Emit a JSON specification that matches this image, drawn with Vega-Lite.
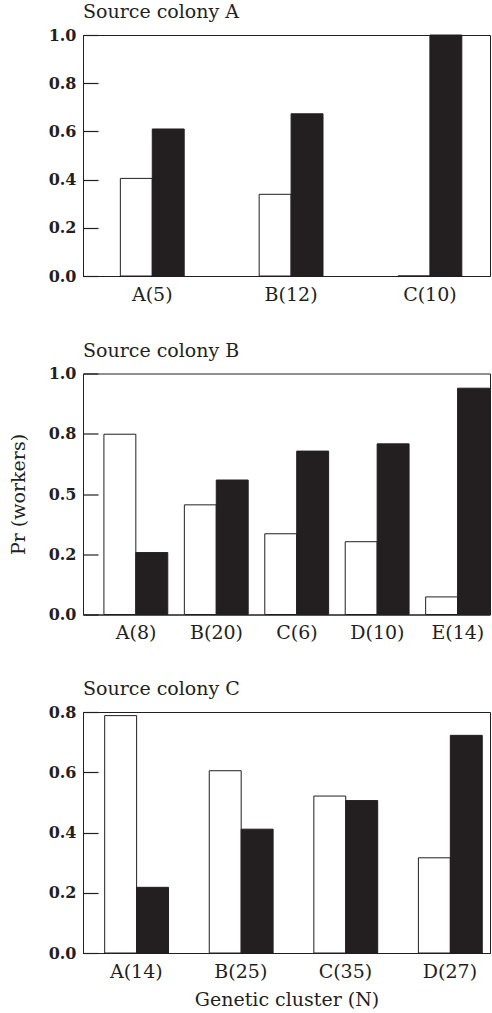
{
  "$schema": "https://vega.github.io/schema/vega-lite/v6.json",
  "padding": {"left": 8, "top": 2, "right": 1, "bottom": 2},
  "spacing": 35.5,
  "config": {
    "font": "DejaVu Serif",
    "view": {"stroke": "#231f20", "strokeWidth": 1},
    "axis": {"domainColor": "#231f20", "tickColor": "#231f20", "labelColor": "#231f20", "titleColor": "#231f20", "grid": false, "labelFont": "DejaVu Serif", "titleFont": "DejaVu Serif"},
    "title": {"font": "DejaVu Serif", "fontSize": 19, "fontWeight": "normal", "anchor": "start", "frame": "group", "color": "#231f20"}
  },
  "datasets": {
    "colA": [
      {"cluster": "A(5)", "bar": "open", "pr": 0.405},
      {"cluster": "A(5)", "bar": "filled", "pr": 0.61},
      {"cluster": "B(12)", "bar": "open", "pr": 0.339},
      {"cluster": "B(12)", "bar": "filled", "pr": 0.673},
      {"cluster": "C(10)", "bar": "open", "pr": 0.0},
      {"cluster": "C(10)", "bar": "filled", "pr": 1.0}
    ],
    "colB": [
      {"cluster": "A(8)", "bar": "open", "pr": 0.748},
      {"cluster": "A(8)", "bar": "filled", "pr": 0.257},
      {"cluster": "B(20)", "bar": "open", "pr": 0.455},
      {"cluster": "B(20)", "bar": "filled", "pr": 0.558},
      {"cluster": "C(6)", "bar": "open", "pr": 0.335},
      {"cluster": "C(6)", "bar": "filled", "pr": 0.678},
      {"cluster": "D(10)", "bar": "open", "pr": 0.302},
      {"cluster": "D(10)", "bar": "filled", "pr": 0.708},
      {"cluster": "E(14)", "bar": "open", "pr": 0.073},
      {"cluster": "E(14)", "bar": "filled", "pr": 0.939}
    ],
    "colC": [
      {"cluster": "A(14)", "bar": "open", "pr": 0.788},
      {"cluster": "A(14)", "bar": "filled", "pr": 0.218},
      {"cluster": "B(25)", "bar": "open", "pr": 0.605},
      {"cluster": "B(25)", "bar": "filled", "pr": 0.411},
      {"cluster": "C(35)", "bar": "open", "pr": 0.521},
      {"cluster": "C(35)", "bar": "filled", "pr": 0.506},
      {"cluster": "D(27)", "bar": "open", "pr": 0.316},
      {"cluster": "D(27)", "bar": "filled", "pr": 0.7225}
    ]
  },
  "vconcat": [
    {
      "title": {"text": "Source colony A", "offset": 5},
      "width": 407,
      "height": 241,
      "data": {"name": "colA"},
      "mark": {"type": "bar", "stroke": "#231f20", "strokeWidth": 1},
      "encoding": {
        "x": {"field": "cluster", "type": "nominal", "sort": null,
              "scale": {"paddingInner": 0.54, "paddingOuter": 0.236, "align": 0.57},
              "axis": {"title": null, "labelAngle": 0, "ticks": false, "labelFontSize": 19, "labelPadding": 9}},
        "xOffset": {"field": "bar", "type": "nominal", "sort": ["open", "filled"], "scale": {"paddingInner": 0, "paddingOuter": 0}},
        "y": {"field": "pr", "type": "quantitative",
              "scale": {"domain": [0, 1], "nice": false},
              "axis": {"title": null, "values": [0, 0.2, 0.4, 0.6, 0.8, 1.0], "format": ".1f", "tickSize": -15, "tickWidth": 1.2, "labelFontSize": 16, "labelFontWeight": "bold", "labelPadding": 22}},
        "fill": {"field": "bar", "type": "nominal", "scale": {"domain": ["open", "filled"], "range": ["#ffffff", "#231f20"]}, "legend": null}
      }
    },
    {
      "title": {"text": "Source colony B", "offset": 5},
      "width": 407,
      "height": 241,
      "data": {"name": "colB"},
      "mark": {"type": "bar", "stroke": "#231f20", "strokeWidth": 1},
      "encoding": {
        "x": {"field": "cluster", "type": "nominal", "sort": null,
              "scale": {"paddingInner": 0.2, "paddingOuter": 0.13, "align": 1},
              "axis": {"title": null, "labelAngle": 0, "ticks": false, "labelFontSize": 19, "labelPadding": 9}},
        "xOffset": {"field": "bar", "type": "nominal", "sort": ["open", "filled"], "scale": {"paddingInner": 0, "paddingOuter": 0}},
        "y": {"field": "pr", "type": "quantitative",
              "scale": {"domain": [0, 1], "nice": false},
              "axis": {"title": "Pr (workers)", "titleFontSize": 19, "titleFontWeight": "normal", "values": [0, 0.25, 0.5, 0.75, 1.0],
                       "labelExpr": "datum.value == 0.25 ? '0.2' : datum.value == 0.75 ? '0.8' : format(datum.value, '.1f')",
                       "tickSize": -15, "tickWidth": 1.2, "labelFontSize": 16, "labelFontWeight": "bold", "labelPadding": 22, "titlePadding": 20}},
        "fill": {"field": "bar", "type": "nominal", "scale": {"domain": ["open", "filled"], "range": ["#ffffff", "#231f20"]}, "legend": null}
      }
    },
    {
      "title": {"text": "Source colony C", "offset": 5},
      "width": 407,
      "height": 241,
      "data": {"name": "colC"},
      "mark": {"type": "bar", "stroke": "#231f20", "strokeWidth": 1},
      "encoding": {
        "x": {"field": "cluster", "type": "nominal", "sort": null,
              "scale": {"paddingInner": 0.396, "paddingOuter": 0.144, "align": 0.72},
              "axis": {"title": "Genetic cluster (N)", "titleFontSize": 19, "titleFontWeight": "normal", "labelAngle": 0, "ticks": false, "labelFontSize": 19, "labelPadding": 9, "titlePadding": 9}},
        "xOffset": {"field": "bar", "type": "nominal", "sort": ["open", "filled"], "scale": {"paddingInner": 0, "paddingOuter": 0}},
        "y": {"field": "pr", "type": "quantitative",
              "scale": {"domain": [0, 0.8], "nice": false},
              "axis": {"title": null, "values": [0, 0.2, 0.4, 0.6, 0.8], "format": ".1f", "tickSize": -15, "tickWidth": 1.2, "labelFontSize": 16, "labelFontWeight": "bold", "labelPadding": 22}},
        "fill": {"field": "bar", "type": "nominal", "scale": {"domain": ["open", "filled"], "range": ["#ffffff", "#231f20"]}, "legend": null}
      }
    }
  ]
}
